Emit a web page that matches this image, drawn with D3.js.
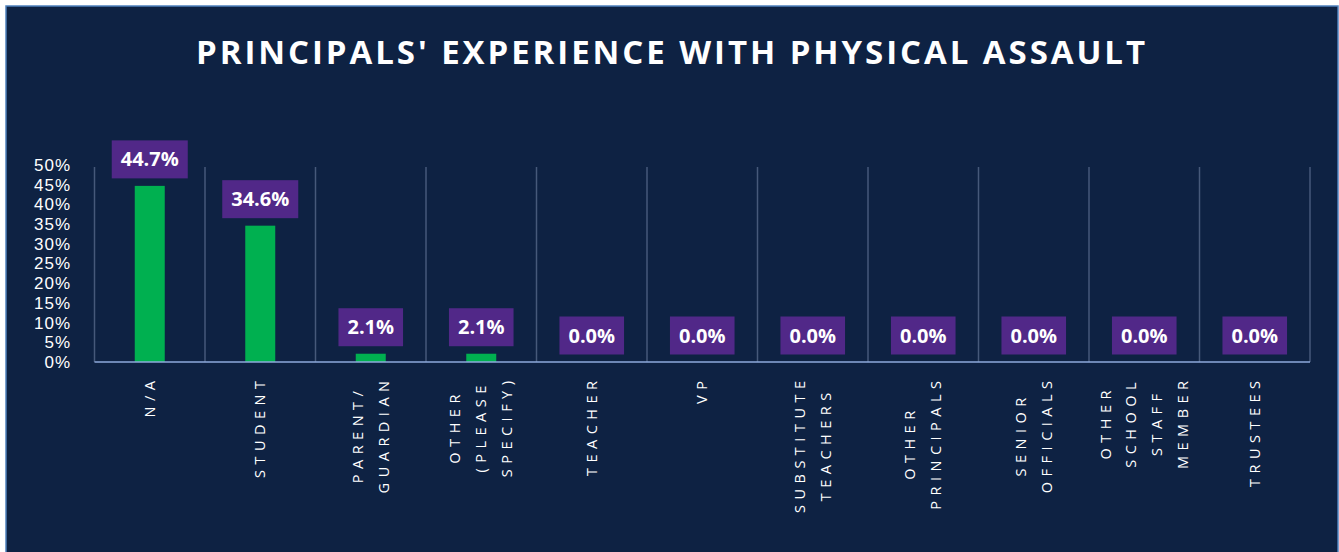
<!DOCTYPE html>
<html>
<head>
<meta charset="utf-8">
<script src="https://cdn.jsdelivr.net/npm/d3@7"></script>
<style>
  html, body { margin: 0; padding: 0; background: #ffffff; overflow: hidden; }
  svg { display: block; }
</style>
</head>
<body>
<div id="chart"></div>
<script>
// chart data
var categories = ["N/A", "STUDENT", "PARENT/ GUARDIAN", "OTHER (PLEASE SPECIFY)", "TEACHER", "VP",
                  "SUBSTITUTE TEACHERS", "OTHER PRINCIPALS", "SENIOR OFFICIALS", "OTHER SCHOOL STAFF MEMBER", "TRUSTEES"];
var labelLines = [["N/A"], ["STUDENT"], ["PARENT/", "GUARDIAN"], ["OTHER", "(PLEASE", "SPECIFY)"], ["TEACHER"], ["VP"],
                  ["SUBSTITUTE", "TEACHERS"], ["OTHER", "PRINCIPALS"], ["SENIOR", "OFFICIALS"], ["OTHER", "SCHOOL", "STAFF", "MEMBER"], ["TRUSTEES"]];
var values = [0.447, 0.346, 0.021, 0.021, 0, 0, 0, 0, 0, 0, 0];
var yTicks = [0, 0.05, 0.10, 0.15, 0.20, 0.25, 0.30, 0.35, 0.40, 0.45, 0.50];
var title = "PRINCIPALS' EXPERIENCE WITH PHYSICAL ASSAULT";

var W = 1339, H = 552;
var bg = "#0e2243", green = "#00b050", purple = "#512888";

var svg = d3.select("#chart").append("svg")
    .attr("width", W)
    .attr("height", H);

// dark panel with thin blue border
svg.append("rect")
    .attr("x", 6).attr("y", 6)
    .attr("width", 1332).attr("height", H + 10)
    .attr("fill", bg)
    .attr("stroke", "#4f81bd")
    .attr("stroke-width", 1.5);

// title
var t = svg.append("text")
    .attr("x", 672).attr("y", 64)
    .attr("text-anchor", "middle")
    .attr("fill", "#ffffff")
    .style("font-family", "'Open Sans', sans-serif")
    .style("font-weight", "bold")
    .style("font-size", "33px")
    .text(title);
var tw = t.node().getComputedTextLength();
t.style("letter-spacing", ((949 - tw) / (title.length - 1)) + "px");

// scales
var x = d3.scaleBand()
    .domain(categories)
    .range([94.5, 1310])
    .padding(0);

var y = d3.scaleLinear()
    .domain([0, 0.5])
    .range([362, 165]);

// vertical gridlines between categories
var bounds = categories.map(function(c) { return x(c); }).concat([x.range()[1]]);
svg.append("g")
    .selectAll("line")
    .data(bounds)
    .join("line")
    .attr("x1", d => d).attr("x2", d => d)
    .attr("y1", 167).attr("y2", 362)
    .attr("stroke", "#46597a")
    .attr("stroke-width", 1.5);

// y axis
var yAxis = svg.append("g")
    .attr("transform", "translate(94.5,0)")
    .call(d3.axisLeft(y).tickValues(yTicks).tickFormat(d3.format(".0%")).tickSize(0).tickPadding(23.5));
yAxis.select(".domain").remove();
yAxis.selectAll("text")
    .attr("fill", "#ffffff")
    .style("font-family", "'Liberation Sans', Arial, sans-serif")
    .style("font-size", "17px")
    .style("letter-spacing", "1px");

// bars
var bw = 30;
svg.append("g")
    .selectAll("rect")
    .data(values)
    .join("rect")
    .attr("x", (d, i) => x(categories[i]) + x.bandwidth() / 2 - bw / 2)
    .attr("y", d => y(d))
    .attr("width", bw)
    .attr("height", d => y(0) - y(d))
    .attr("fill", green);

// x axis line
svg.append("line")
    .attr("x1", x.range()[0]).attr("x2", x.range()[1])
    .attr("y1", 362).attr("y2", 362)
    .attr("stroke", "#8eaadb")
    .attr("stroke-width", 1.5);

// value labels in purple boxes
var fmt = d3.format(".1%");
var lab = svg.append("g")
    .selectAll("g")
    .data(values)
    .join("g")
    .attr("transform", (d, i) => `translate(${x(categories[i]) + x.bandwidth() / 2}, ${y(d) - 7.5})`);
lab.append("rect").attr("fill", purple);
lab.append("text")
    .attr("text-anchor", "middle")
    .attr("y", -12)
    .attr("fill", "#ffffff")
    .style("font-family", "'Open Sans', sans-serif")
    .style("font-weight", "bold")
    .style("font-size", "20px")
    .text(d => fmt(d));
lab.each(function() {
    var g = d3.select(this);
    var w = g.select("text").node().getComputedTextLength() + 18;
    g.select("rect")
        .attr("x", -w / 2).attr("y", -38)
        .attr("width", w).attr("height", 38);
});

// rotated category labels, lines centred, longest line ends at y=381
var ls = 5.5;
labelLines.forEach(function(lines, i) {
    var cx = x(categories[i]) + x.bandwidth() / 2;
    var g = svg.append("g");
    var texts = lines.map(function(line) {
        return g.append("text")
            .attr("text-anchor", "middle")
            .attr("fill", "#ffffff")
            .style("font-family", "'Open Sans', sans-serif")
            .style("font-size", "14.5px")
            .style("letter-spacing", ls + "px")
            .text(line);
    });
    var maxLen = d3.max(texts, tx => tx.node().getComputedTextLength()) - ls;
    var cy = 381 + maxLen / 2;
    var n = lines.length;
    texts.forEach(function(tx, j) {
        var lx = cx + (j - (n - 1) / 2) * 25.8 + 5;
        tx.attr("transform", `translate(${lx},${cy}) rotate(-90)`)
          .attr("dx", ls / 2);
    });
});
</script>
</body>
</html>
